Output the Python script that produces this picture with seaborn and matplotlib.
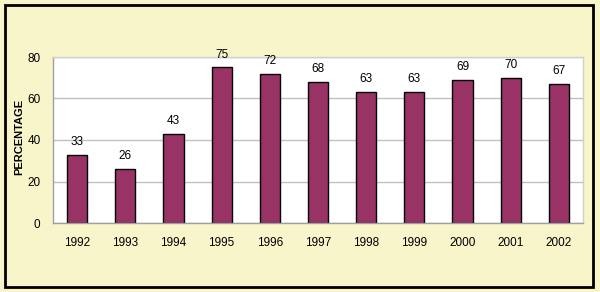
import matplotlib
matplotlib.use("Agg")
import matplotlib.pyplot as plt
import seaborn as sns
import pandas as pd
from matplotlib.patches import Rectangle

years = ["1992", "1993", "1994", "1995", "1996", "1997", "1998", "1999", "2000", "2001", "2002"]
values = [33, 26, 43, 75, 72, 68, 63, 63, 69, 70, 67]
yticks = [0, 20, 40, 60, 80]

sns.set_theme(style="white")
plt.rcParams['font.family'] = ['Liberation Sans', 'DejaVu Sans']

df = pd.DataFrame({"year": years, "value": values})

fig = plt.figure(figsize=(6, 2.92), dpi=100)
fig.patch.set_facecolor("#F8F5CB")
fig.patches.append(Rectangle((5/600, 5/292), 588/600, 282/292, transform=fig.transFigure,
                             fill=False, edgecolor="black", linewidth=2))

ax = fig.add_axes([53/600, 69/292, 530/600, 166/292])
ax.set_facecolor("white")
sns.barplot(data=df, x="year", y="value", color="#993366", width=0.42,
            edgecolor="black", linewidth=1, saturation=1, ax=ax)

ax.set_ylim(0, 80)
ax.set_yticks(yticks)
ax.yaxis.grid(True, color="#C0C0C0", linewidth=1)
ax.set_axisbelow(True)
ax.set_xlim(-0.5, len(years) - 0.5)

for i, v in enumerate(values):
    ax.text(i, v + 3.3, str(v), ha="center", va="bottom", fontsize=8.5, color="black",
            clip_on=False)

ax.set_xlabel("")
ax.set_ylabel("PERCENTAGE", fontsize=8, fontweight="bold", color="black")
ax.yaxis.label.set_fontweight("bold")
ax.yaxis.set_label_coords(-0.054, 0.52)
ax.tick_params(axis="both", labelsize=8.5, colors="black", length=0, pad=6)
ax.set_xticks(range(len(years)))
ax.set_xticklabels(years)
ax.tick_params(axis="x", pad=10)

for s in ["top", "right"]:
    ax.spines[s].set_color("#D0D0D0")
    ax.spines[s].set_linewidth(1)
for s in ["left", "bottom"]:
    ax.spines[s].set_color("#A0A0A0")
    ax.spines[s].set_linewidth(1)

ax.set_xticks([i + 0.5 for i in range(-1, len(years))], minor=True)
ax.tick_params(axis="x", which="minor", length=3, color="#A0A0A0", direction="out")
ax.tick_params(axis="y", which="major", length=3, color="#A0A0A0", direction="out")

fig.savefig("out.png", dpi=100, facecolor=fig.get_facecolor())
